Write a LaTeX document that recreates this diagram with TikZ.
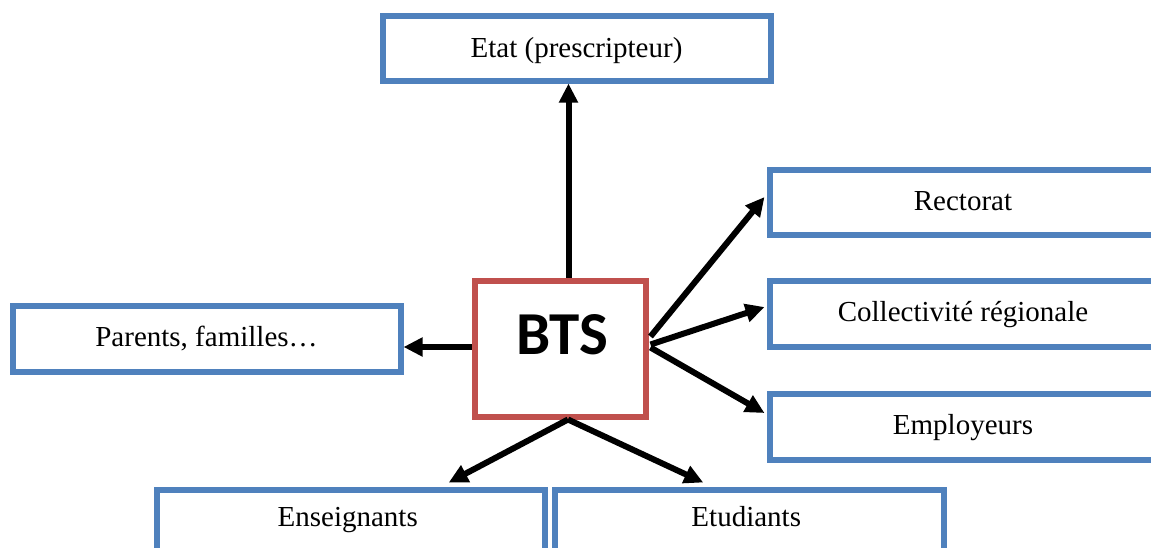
\documentclass[tikz,border=0pt]{standalone}
\usepackage{fontspec}
\setmainfont{Liberation Serif}
\newfontfamily\btsfont{Carlito}
\usetikzlibrary{arrows.meta,calc}
\definecolor{boxblue}{HTML}{4F81BD}
\definecolor{boxred}{HTML}{C0504D}
\begin{document}
\begin{tikzpicture}[x=1pt,y=-1pt,
  box/.style={draw=boxblue,line width=6pt,rectangle,fill=white,inner sep=0pt,
    font=\fontsize{29}{35}\selectfont},
  lbl/.style={font=\fontsize{29}{35}\selectfont,inner sep=0pt,anchor=base},
  conn/.style={line width=6pt,-{Triangle[length=19pt,width=18pt]}}]
\useasboundingbox (0,0) rectangle (1151,547);
% BTS
\node[draw=boxred,line width=6pt,minimum width=171pt,minimum height=136pt,inner sep=0pt] (bts) at (560,348.5) {};
\node[font=\btsfont\bfseries\fontsize{61}{70}\selectfont,inner sep=0pt] (btstext) at (562,335) {BTS};
% boxes
\node[box,minimum width=388pt,minimum height=65pt] (etat) at (576.5,48) {};
\node[lbl] (etatlbl) at (576.5,57) {Etat (prescripteur)};
\node[box,minimum width=387pt,minimum height=65pt] (rect) at (963,202) {};
\node[lbl] (rectlbl) at (963,210) {Rectorat};
\node[box,minimum width=387pt,minimum height=66pt] (coll) at (963,313.5) {};
\node[lbl] (colllbl) at (963,321) {Collectivité régionale};
\node[box,minimum width=387pt,minimum height=66pt] (emp) at (963,426.5) {};
\node[lbl] (emplbl) at (963,434) {Employeurs};
\node[box,minimum width=388pt,minimum height=66pt] (par) at (206.5,338.5) {};
\node[lbl] (parlbl) at (206.5,346) {Parents, familles…};
\node[box,minimum width=387.5pt,minimum height=62pt,anchor=north west] (ens) at (154,486.5) {};
\node[lbl] (enslbl) at (347.75,526) {Enseignants};
\node[box,minimum width=388.5pt,minimum height=62pt,anchor=north west] (etu) at (552,486.5) {};
\node[lbl] (etulbl) at (746.25,526) {Etudiants};
% connectors
\draw[conn] ($(bts.north)+(8.5,0)$) -- ($(etat.south)+(-8,0)$);
\draw[conn] ($(bts.west)+(0,-1.5)$) -- ($(par.east)+(0,8.5)$);
\draw[conn] ($(bts.east)+(2,-12)$) -- ($(rect.west)+(-2,-5)$);
\draw[conn] ($(bts.east)+(2,-4)$) -- ($(coll.west)+(-2,-6.5)$);
\draw[conn] ($(bts.east)+(2,-1)$) -- ($(emp.west)+(-2,-13.5)$);
\draw[conn] ($(bts.south)+(8,0)$) -- ($(ens.north)+(98,-4)$);
\draw[conn] ($(bts.south)+(8,0)$) -- ($(etu.north)+(-46,-4)$);
\end{tikzpicture}
\end{document}
